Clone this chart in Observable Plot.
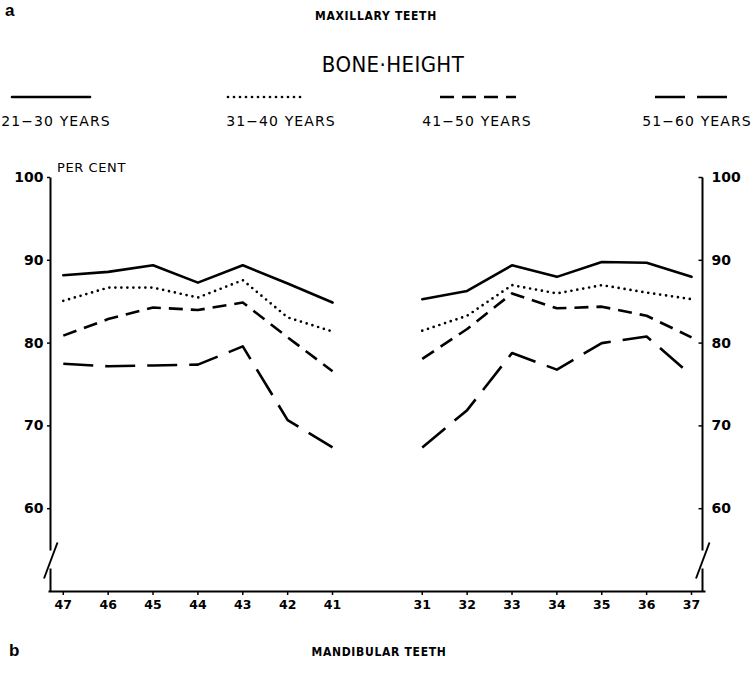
<!DOCTYPE html>
<html>
<head>
<meta charset="utf-8">
<script src="https://cdn.jsdelivr.net/npm/d3@7"></script>
<script src="https://cdn.jsdelivr.net/npm/@observablehq/plot@0.6"></script>
<style>
  html, body { margin: 0; padding: 0; background: #fff; }
  #wrap { position: relative; width: 754px; height: 675px; overflow: hidden; background: #fff; color: #000; }
  #wrap svg.plot { position: absolute; left: 0; top: 0; }
  .t { position: absolute; white-space: nowrap; transform: translate(-50%, -50%); }
  .l { position: absolute; white-space: nowrap; transform: translate(0, -50%); }
</style>
</head>
<body>
<div id="wrap"></div>
<script>
// ---------------- data ----------------
const teethLeft  = ["47", "46", "45", "44", "43", "42", "41"];
const teethRight = ["31", "32", "33", "34", "35", "36", "37"];
const ageGroups  = ["21−30 YEARS", "31−40 YEARS", "41−50 YEARS", "51−60 YEARS"];
const yTicks     = [60, 70, 80, 90, 100];

// bone height, per cent (left half: teeth 47..41, right half: teeth 31..37)
const age2130Left  = [88.2, 88.6, 89.4, 87.3, 89.4, 87.2, 84.9];
const age3140Left  = [85.1, 86.7, 86.7, 85.5, 87.6, 83.1, 81.4];
const age4150Left  = [80.9, 82.9, 84.3, 84.0, 84.9, 80.7, 76.6];
const age5160Left  = [77.5, 77.2, 77.3, 77.4, 79.6, 70.7, 67.4];

const age2130Right = [85.3, 86.3, 89.4, 88.0, 89.8, 89.7, 88.0];
const age3140Right = [81.5, 83.3, 87.0, 86.0, 87.0, 86.1, 85.3];
const age4150Right = [78.1, 81.7, 86.0, 84.2, 84.4, 83.3, 80.7];
const age5160Right = [67.4, 71.9, 78.8, 76.8, 80.0, 80.8, 76.1];

// ---------------- build table ----------------
const leftSeries  = [age2130Left, age3140Left, age4150Left, age5160Left];
const rightSeries = [age2130Right, age3140Right, age4150Right, age5160Right];
// position index: left teeth 0..6, gap at 7, right teeth 8..14
const tickIdx = [...teethLeft.map((_, i) => i), ...teethRight.map((_, i) => i + 8)];
const tickLab = [...teethLeft, ...teethRight];
const rows = [];
ageGroups.forEach((g, gi) => {
  leftSeries[gi].forEach((v, i) => rows.push({group: g, side: "L", xi: i, v}));
  rightSeries[gi].forEach((v, i) => rows.push({group: g, side: "R", xi: i + 8, v}));
});

const styles = [
  {strokeWidth: 2.6, strokeDasharray: null, strokeLinecap: "round"},
  {strokeWidth: 2.7, strokeDasharray: "0,6", strokeLinecap: "round"},
  {strokeWidth: 2.6, strokeDasharray: "14,8", strokeLinecap: "butt"},
  {strokeWidth: 2.6, strokeDasharray: "30,12", strokeLinecap: "butt"}
];

// ---------------- geometry ----------------
const W = 754, H = 675;
const mL = 50, mR = 52, mT = 177, mB = 84;
const xDom = [-0.285, 14.245];
const pxPerX = (W - mL - mR) / (xDom[1] - xDom[0]);
const pxPerY = (H - mT - mB) / 50;
const dx = p => p / pxPerX;   // pixel offset -> x units
const dy = p => p / pxPerY;   // pixel offset -> y units
const xL = xDom[0], xR = xDom[1];

// axis-break decoration (left and right vertical axes)
function axisSegs(x0) {
  return [
    {x1: x0, x2: x0, y1: 100, y2: 50 + dy(41)},
    {x1: x0 + dx(7), x2: x0 - dx(6.5), y1: 50 + dy(49), y2: 50 + dy(13)},
    {x1: x0, x2: x0, y1: 50 + dy(23), y2: 50}
  ];
}
const segs = [...axisSegs(xL), ...axisSegs(xR)];

const FONT = "'DejaVu Sans', sans-serif";

const marks = [
  // vertical axes with breaks
  Plot.link(segs, {x1: "x1", x2: "x2", y1: "y1", y2: "y2", stroke: "black", strokeWidth: 2}),
  // bottom axis line
  Plot.link([{a: 1}], {x1: () => xL - dx(2), x2: () => xR + dx(3), y1: () => 50, y2: () => 50, stroke: "black", strokeWidth: 2}),
  // right axis inward tick marks
  Plot.link(yTicks, {x1: () => xR - dx(4), x2: () => xR, y1: d => d, y2: d => d, stroke: "black", strokeWidth: 1.5}),
  Plot.axisX({ticks: tickIdx, tickFormat: i => tickLab[tickIdx.indexOf(i)], tickSize: 4, tickPadding: 5,
    label: null, fontSize: 12.5, fontWeight: "bold", strokeWidth: 1.5}),
  Plot.axisY({anchor: "left", ticks: yTicks, tickSize: 3, tickPadding: 4, label: null,
    fontSize: 14, fontWeight: "bold", strokeWidth: 1.5}),
  Plot.axisY({anchor: "right", ticks: yTicks, tickSize: 0, tickPadding: 9, label: null,
    fontSize: 14, fontWeight: "bold"}),
  ...ageGroups.map((g, gi) => Plot.line(rows.filter(d => d.group === g), {
    x: "xi", y: "v", z: "side", stroke: "black",
    strokeWidth: styles[gi].strokeWidth,
    strokeDasharray: styles[gi].strokeDasharray,
    strokeLinecap: styles[gi].strokeLinecap,
    strokeLinejoin: "round"
  }))
];

const chart = Plot.plot({
  width: W, height: H,
  marginLeft: mL, marginRight: mR, marginTop: mT, marginBottom: mB,
  x: {type: "linear", domain: xDom},
  y: {type: "linear", domain: [50, 100]},
  style: {fontFamily: FONT, color: "black", background: "white"},
  marks
});
chart.classList.add("plot");

const wrap = document.getElementById("wrap");
wrap.appendChild(chart);

// ---------------- texts ----------------
function addText(txt, cls, x, y, css) {
  const d = document.createElement("div");
  d.className = cls;
  d.textContent = txt;
  d.style.left = x + "px";
  d.style.top = y + "px";
  Object.assign(d.style, css);
  wrap.appendChild(d);
  return d;
}
const SMALL = "bold 12px 'Liberation Sans Narrow', 'DejaVu Sans Condensed', sans-serif";
addText("a", "l", 5, 11, {font: "bold 17px 'Liberation Sans', sans-serif"});
addText("MAXILLARY TEETH", "t", 376, 16, {font: SMALL, letterSpacing: "0.7px"});
addText("BONE·HEIGHT", "t", 393, 64, {font: "22px 'Liberation Sans Narrow', 'DejaVu Sans Condensed', sans-serif", letterSpacing: "0.4px"});
addText("PER CENT", "l", 57, 167, {font: "13px " + FONT, letterSpacing: "0.6px"});
addText("b", "l", 9, 651, {font: "bold 17px 'Liberation Sans', sans-serif"});
addText("MANDIBULAR TEETH", "t", 379, 652, {font: SMALL, letterSpacing: "0.7px"});

// ---------------- legend ----------------
const legendLineX = [[12, 90], [228, 304], [440, 516], [655, 737]];
const legendTextX = [56, 281, 477, 697];
ageGroups.forEach((g, gi) => {
  const [a, b] = legendLineX[gi];
  const svg = d3.create("svg").attr("width", b - a + 4).attr("height", 8)
    .style("position", "absolute").style("left", (a - 2) + "px").style("top", "93px");
  svg.append("line").attr("x1", 2).attr("x2", b - a + 2).attr("y1", 4).attr("y2", 4)
    .attr("stroke", "black").attr("stroke-width", styles[gi].strokeWidth)
    .attr("stroke-dasharray", styles[gi].strokeDasharray)
    .attr("stroke-linecap", styles[gi].strokeLinecap);
  wrap.appendChild(svg.node());
  addText(g, "t", legendTextX[gi], 121, {font: "14px " + FONT, letterSpacing: "1.1px"});
});
</script>
</body>
</html>
